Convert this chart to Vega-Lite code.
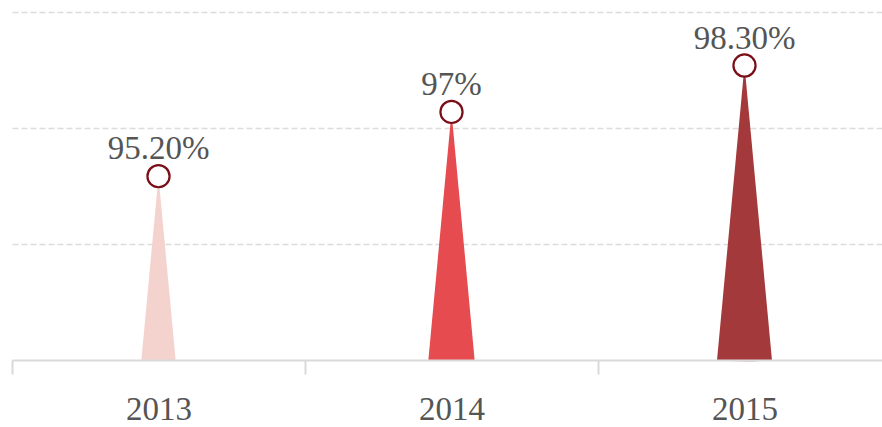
{
  "$schema": "https://vega.github.io/schema/vega-lite/v6.json",
  "width": 870,
  "height": 348,
  "autosize": {"type": "none"},
  "padding": {"left": 12, "top": 12, "right": 0, "bottom": 67},
  "background": "white",
  "config": {"view": {"stroke": null}},
  "data": {
    "values": [
      {"year": "2013", "value": 95.2, "label": "95.20%"},
      {"year": "2014", "value": 97, "label": "97%"},
      {"year": "2015", "value": 98.3, "label": "98.30%"}
    ]
  },
  "encoding": {
    "x": {
      "field": "year",
      "type": "nominal",
      "scale": {"range": [0, 879], "paddingInner": 0, "paddingOuter": 0},
      "axis": {
        "title": null,
        "labelAngle": 0,
        "grid": false,
        "zindex": 1,
        "domainColor": "#d9d9d9",
        "domainWidth": 2,
        "tickColor": "#d9d9d9",
        "tickWidth": 2,
        "tickSize": 14,
        "tickBand": "extent",
        "labelFont": "Liberation Serif",
        "labelFontSize": 33,
        "labelColor": "#555555",
        "labelBaseline": "alphabetic",
        "labelPadding": 45
      }
    },
    "y": {
      "field": "value",
      "type": "quantitative",
      "scale": {"domain": [90.05, 99.8], "zero": false, "nice": false},
      "axis": {
        "title": null,
        "labels": false,
        "ticks": false,
        "domain": false,
        "grid": true,
        "zindex": 0,
        "values": [93.3, 96.55, 99.8],
        "gridColor": "#dcdcdc",
        "gridDash": [6, 3],
        "gridWidth": 1.5
      }
    }
  },
  "layer": [
    {
      "mark": {"type": "arc", "theta": 3.0486, "theta2": 3.2346},
      "encoding": {
        "radius": {
          "field": "value",
          "type": "quantitative",
          "scale": {"type": "linear", "domain": [90.05, 99.8], "range": [0, 349.5], "zero": false, "nice": false}
        },
        "color": {
          "field": "year",
          "type": "nominal",
          "scale": {"range": ["#f4d3ce", "#e64b4f", "#a3393a"]},
          "legend": null
        }
      }
    },
    {
      "mark": {
        "type": "point",
        "shape": "circle",
        "size": 490,
        "filled": true,
        "fill": "white",
        "stroke": "#7a0e17",
        "strokeWidth": 2.2,
        "opacity": 1
      }
    },
    {
      "mark": {
        "type": "text",
        "dy": -17,
        "baseline": "alphabetic",
        "font": "Liberation Serif",
        "fontSize": 33,
        "fill": "#555555"
      },
      "encoding": {"text": {"field": "label"}}
    }
  ]
}
